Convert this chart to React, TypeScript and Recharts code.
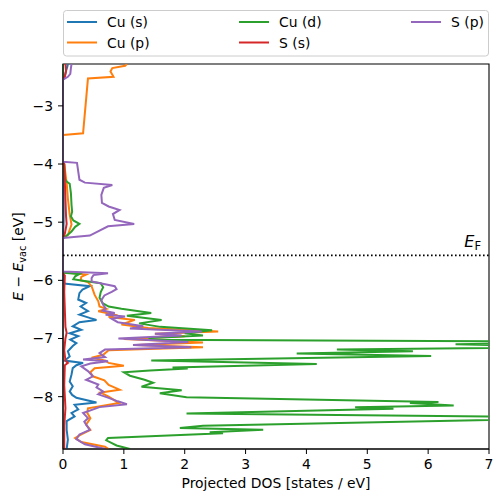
import React from 'react';
import { LineChart, Line, XAxis, YAxis, ReferenceLine, ReferenceArea } from 'recharts';

type Pt = [number, number]; // [E - E_vac (eV), projected DOS]

const cuS: Pt[] = [
  [-2.28, 0.08], [-2.33, 0.07], [-2.4, 0.05], [-2.48, 0.03], [-2.55, 0], [-3.95, 0], [-4.3, 0.01], [-5.0, 0.01], [-5.27, 0],
  [-6.04, 0], [-6.06, 0.05], [-6.1, 0.44], [-6.16, 0.32], [-6.22, 0.27], [-6.33, 0.25], [-6.39, 0.38], [-6.45, 0.29],
  [-6.53, 0.41], [-6.59, 0.27], [-6.65, 0.45], [-6.68, 0.55], [-6.72, 0.27], [-6.79, 0.16], [-6.85, 0.3], [-6.91, 0.11],
  [-6.96, 0.25], [-7.02, 0.12], [-7.08, 0.22], [-7.13, 0.16], [-7.22, 0.08], [-7.31, 0.11], [-7.38, 0.03], [-7.42, 0.33],
  [-7.46, 0.22], [-7.51, 0.16], [-7.62, 0.14], [-7.74, 0.11], [-7.82, 0.16], [-7.91, 0.11], [-7.97, 0.15], [-8.02, 0.22],
  [-8.1, 0.55], [-8.14, 0.19], [-8.22, 0.25], [-8.28, 0.14], [-8.34, 0.19], [-8.42, 0.06], [-8.57, 0.06], [-8.74, 0.08],
  [-8.9, 0.06],
];

const cuP: Pt[] = [
  [-2.28, 1.05], [-2.31, 1.02], [-2.35, 0.81], [-2.41, 0.78], [-2.5, 0.83], [-2.53, 0.41], [-3.47, 0.33], [-3.5, 0],
  [-3.95, 0], [-4.0, 0.02], [-4.33, 0.06], [-4.59, 0.08], [-4.87, 0.11], [-5.04, 0.14], [-5.22, 0.08], [-5.27, 0],
  [-5.86, 0], [-5.9, 0.38], [-5.94, 0.3], [-6.0, 0.29], [-6.03, 0.41], [-6.1, 0.47], [-6.25, 0.52], [-6.36, 0.58],
  [-6.45, 0.6], [-6.49, 0.71], [-6.53, 0.58], [-6.59, 0.85], [-6.63, 0.75], [-6.68, 1.18], [-6.76, 0.96], [-6.82, 1.4],
  [-6.88, 2.55], [-6.92, 1.51], [-6.96, 2.0], [-7.01, 1.0], [-7.07, 2.3], [-7.11, 1.2], [-7.15, 2.3], [-7.2, 0.75],
  [-7.28, 0.66], [-7.33, 0.47], [-7.38, 0.7], [-7.42, 0.75], [-7.47, 1.0], [-7.51, 0.52], [-7.58, 0.45], [-7.65, 0.49],
  [-7.72, 0.68], [-7.8, 0.75], [-7.88, 0.93], [-7.93, 0.62], [-8.0, 0.75], [-8.11, 0.92], [-8.2, 0.41], [-8.28, 0.4],
  [-8.37, 0.45], [-8.48, 0.38], [-8.57, 0.45], [-8.65, 0.3], [-8.71, 0.2], [-8.78, 0.3], [-8.86, 0.69], [-8.9, 0.75],
];

const cuD: Pt[] = [
  [-2.28, 0], [-3.95, 0], [-4.0, 0.02], [-4.25, 0.03], [-4.3, 0.06], [-4.34, 0.11], [-4.5, 0.13], [-4.7, 0.14],
  [-4.82, 0.15], [-4.9, 0.13], [-4.97, 0.17], [-5.03, 0.27], [-5.08, 0.2], [-5.16, 0.14], [-5.24, 0.05], [-5.28, 0],
  [-5.87, 0], [-5.89, 0.27], [-5.93, 0.2], [-5.98, 0.17], [-6.01, 0.35], [-6.05, 0.62], [-6.12, 0.66], [-6.2, 0.62],
  [-6.3, 0.6], [-6.39, 0.65], [-6.45, 0.75], [-6.49, 0.96], [-6.56, 1.45], [-6.61, 1.05], [-6.68, 1.62], [-6.74, 1.25],
  [-6.8, 1.6], [-6.86, 2.45], [-6.91, 2.0], [-6.95, 2.3], [-6.99, 1.45], [-7.02, 1.4], [-7.055, 9.0], [-7.1, 6.45],
  [-7.145, 9.0], [-7.19, 4.5], [-7.22, 5.75], [-7.26, 3.84], [-7.3, 6.05], [-7.38, 1.45], [-7.44, 4.17], [-7.5, 1.8],
  [-7.515, 2.05], [-7.55, 1.43], [-7.58, 1.0], [-7.64, 1.1], [-7.71, 1.34], [-7.76, 1.48], [-7.83, 1.29], [-7.89, 1.95],
  [-7.94, 1.59], [-8.01, 2.03], [-8.09, 6.17], [-8.11, 5.7], [-8.15, 6.42], [-8.18, 4.8], [-8.21, 5.43], [-8.29, 2.03],
  [-8.36, 9.0], [-8.5, 2.3], [-8.54, 1.92], [-8.57, 3.29], [-8.61, 2.41], [-8.63, 2.63], [-8.68, 1.43], [-8.71, 0.74],
  [-8.75, 0.71], [-8.84, 0.88], [-8.9, 1.1],
];

const sS: Pt[] = [
  [-2.28, 0.04], [-2.4, 0.05], [-2.5, 0.03], [-2.55, 0], [-3.95, 0], [-4.0, 0.02], [-4.3, 0.03], [-4.6, 0.04],
  [-4.9, 0.05], [-5.03, 0.06], [-5.2, 0.03], [-5.27, 0], [-5.88, 0], [-5.92, 0.03], [-6.2, 0.02], [-6.5, 0.03],
  [-6.8, 0.04], [-6.9, 0.06], [-7.0, 0.04], [-7.2, 0.02], [-7.38, 0.04], [-7.42, 0.08], [-7.46, 0.03], [-7.8, 0.02],
  [-8.0, 0.03], [-8.2, 0.04], [-8.5, 0.02], [-8.9, 0.02],
];

const sP: Pt[] = [
  [-2.28, 0.14], [-2.35, 0.13], [-2.45, 0.12], [-2.5, 0.08], [-2.55, 0],
  [-3.96, 0], [-3.98, 0.23], [-4.27, 0.27], [-4.32, 0.36], [-4.36, 0.81], [-4.41, 0.67], [-4.53, 0.63], [-4.67, 0.64],
  [-4.73, 0.75], [-4.79, 0.93], [-4.86, 0.82], [-4.96, 0.85], [-5.03, 1.17], [-5.07, 0.74], [-5.23, 0.44], [-5.27, 0],
  [-5.85, 0], [-5.88, 0.74], [-5.91, 0.5], [-5.96, 0.47], [-6.02, 0.47], [-6.1, 0.85], [-6.15, 0.88], [-6.2, 0.8],
  [-6.26, 0.68], [-6.34, 0.63], [-6.42, 0.66], [-6.48, 0.7], [-6.52, 0.65], [-6.56, 0.85], [-6.59, 0.7], [-6.62, 1.02],
  [-6.66, 0.8], [-6.72, 0.9], [-6.79, 1.32], [-6.83, 1.1], [-6.88, 2.28], [-6.92, 1.51], [-6.95, 1.95], [-7.0, 0.91],
  [-7.06, 2.06], [-7.11, 1.15], [-7.15, 2.11], [-7.19, 0.69], [-7.25, 0.6], [-7.32, 0.69], [-7.36, 0.33], [-7.39, 0.74],
  [-7.43, 0.45], [-7.48, 0.3], [-7.56, 0.41], [-7.65, 0.49], [-7.71, 0.38], [-7.79, 0.58], [-7.84, 0.55], [-7.91, 0.66],
  [-7.96, 0.58], [-8.02, 0.75], [-8.08, 0.9], [-8.13, 1.05], [-8.18, 0.6], [-8.28, 0.33], [-8.37, 0.41], [-8.43, 0.35],
  [-8.48, 0.38], [-8.57, 0.44], [-8.65, 0.27], [-8.73, 0.22], [-8.82, 0.36], [-8.9, 0.7],
];

const xTicks = [0, 1, 2, 3, 4, 5, 6, 7];
const yTicks = [-8, -7, -6, -5, -4, -3];
const E_FERMI = -5.57;
const E_MIN = -8.9;
const E_MAX = -2.28;
const DOS_MAX = 7;

const series = [
  { id: 'cuS', name: 'Cu (s)', color: '#1f77b4', pts: cuS },
  { id: 'cuP', name: 'Cu (p)', color: '#ff7f0e', pts: cuP },
  { id: 'cuD', name: 'Cu (d)', color: '#2ca02c', pts: cuD },
  { id: 'sS', name: 'S (s)', color: '#d62728', pts: sS },
  { id: 'sP', name: 'S (p)', color: '#9467bd', pts: sP },
];

const FONT = '"DejaVu Sans", sans-serif';
const FS = 13.9;

const EFLabel = (props: any) => {
  const vb = props.viewBox || {};
  const x = (vb.x ?? 0) + (vb.width ?? 0) - 8;
  const y = (vb.y ?? 0) - 8;
  return (
    <text x={x} y={y} textAnchor="end" fontFamily={FONT} fontSize={16} fill="#000">
      <tspan fontStyle="italic">E</tspan>
      <tspan fontSize={11.5} dy={3}>F</tspan>
    </text>
  );
};

const legendCols = [
  { x: 67, items: [0, 1] },
  { x: 239, items: [2, 3] },
  { x: 411, items: [4] },
];

export default function App() {
  return (
    <div style={{ position: 'absolute', left: 0, top: 0, width: 502, height: 502, background: '#fff' }}>
      <LineChart width={502} height={502} layout="vertical" margin={{ top: 64, right: 13, bottom: 0, left: 0 }}>
        <XAxis
          type="number"
          domain={[0, DOS_MAX]}
          ticks={xTicks}
          allowDataOverflow
          height={53}
          tickSize={5}
          tickMargin={5}
          stroke="#000"
          tick={{ fill: '#000', fontSize: FS, fontFamily: FONT }}
        />
        <YAxis
          type="number"
          dataKey="E"
          domain={[E_MIN, E_MAX]}
          ticks={yTicks}
          reversed
          allowDataOverflow
          width={63}
          tickSize={5}
          tickMargin={5}
          stroke="#000"
          tick={{ fill: '#000', fontSize: FS, fontFamily: FONT }}
          tickFormatter={(v: number) => String(v).replace('-', '\u2212')}
        />
        {series.map((s) => (
          <Line
            key={s.id}
            data={s.pts.map(([E, v]) => ({ E, [s.id]: v }))}
            dataKey={s.id}
            name={s.name}
            type="linear"
            stroke={s.color}
            strokeWidth={2}
            dot={false}
            activeDot={false}
            isAnimationActive={false}
          />
        ))}
        <ReferenceLine
          y={E_FERMI}
          stroke="#000"
          strokeWidth={1.6}
          strokeDasharray="1.6 2.4"
          label={<EFLabel />}
        />
        <ReferenceArea x1={0} x2={DOS_MAX} y1={E_MIN} y2={E_MAX} fill="none" fillOpacity={0} stroke="#000" strokeWidth={1.1} />
      </LineChart>
      <svg width={502} height={502} style={{ position: 'absolute', left: 0, top: 0, pointerEvents: 'none' }}>
        <rect x={63.5} y={10.5} width={425} height={45.5} rx={3} fill="#fff" fillOpacity={0.8} stroke="#cccccc" strokeWidth={1} />
        {legendCols.map((col, ci) =>
          col.items.map((si, ri) => (
            <g key={`${ci}-${ri}`}>
              <line x1={col.x} x2={col.x + 30} y1={22 + ri * 20.5} y2={22 + ri * 20.5} stroke={series[si].color} strokeWidth={2} />
              <text x={col.x + 40} y={27.3 + ri * 20.5} fontFamily={FONT} fontSize={FS} fill="#000">
                {series[si].name}
              </text>
            </g>
          ))
        )}
        <text x={276} y={488} textAnchor="middle" fontFamily={FONT} fontSize={FS} fill="#000">
          Projected DOS [states / eV]
        </text>
        <text transform="translate(23,256.5) rotate(-90)" textAnchor="middle" fontFamily={FONT} fontSize={FS} fill="#000">
          <tspan fontStyle="italic">E</tspan>
          <tspan>{' \u2212 '}</tspan>
          <tspan fontStyle="italic">E</tspan>
          <tspan fontSize={9.7} dy={2.5}>vac</tspan>
          <tspan dy={-2.5}>{' [eV]'}</tspan>
        </text>
      </svg>
    </div>
  );
}
